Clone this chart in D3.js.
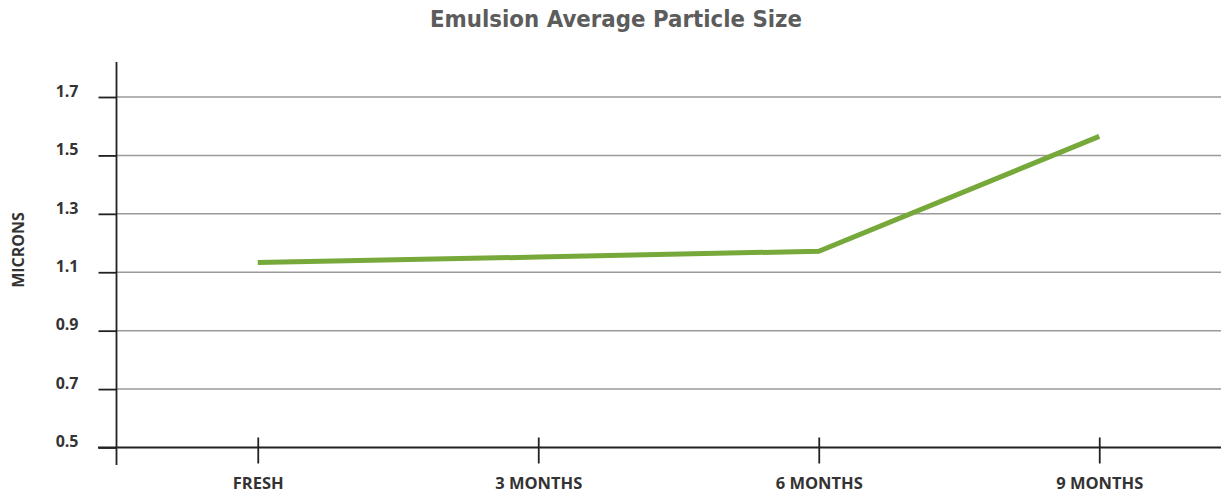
<!DOCTYPE html>
<html><head><meta charset="utf-8">
<script src="https://cdn.jsdelivr.net/npm/d3@7"></script>
<style>body{margin:0;background:#fff}svg{display:block}</style>
</head><body><svg id="c" width="1221" height="497"></svg>
<script>
const categories = ["FRESH", "3 MONTHS", "6 MONTHS", "9 MONTHS"];
const values = [1.133, 1.152, 1.172, 1.565];
const yTicks = [0.5, 0.7, 0.9, 1.1, 1.3, 1.5, 1.7];
const title = "Emulsion Average Particle Size";
const yLabel = "MICRONS";

const svg = d3.select("#c");
const axisX = 116.5, baseY = 447.5;
const x = d3.scalePoint().domain(categories).range([117.5, 1239.5]).padding(0.5);
const y = d3.scaleLinear().domain([0.5, 1.7]).range([baseY, 97]);

// gridlines
svg.append("g").selectAll("line").data(yTicks.filter(d => d > 0.5)).join("line")
  .attr("x1", axisX).attr("x2", 1221).attr("y1", d => y(d)).attr("y2", d => y(d))
  .attr("stroke", "#9a9a9a").attr("stroke-width", 1.5);

// y axis
const ya = svg.append("g").attr("transform", `translate(${axisX},0)`)
  .call(d3.axisLeft(y).tickValues(yTicks).tickSize(18).tickPadding(20).tickFormat(d3.format(".1f")));
ya.select(".domain").remove();
ya.selectAll(".tick line").attr("stroke", "#222").attr("stroke-width", 1.8);
ya.selectAll("text").attr("font-family", "Open Sans").attr("font-weight", "bold")
  .attr("font-size", 16).attr("fill", "#333").attr("dy", "-0.05em");
svg.append("line").attr("x1", axisX).attr("x2", axisX).attr("y1", 62).attr("y2", 465)
  .attr("stroke", "#222").attr("stroke-width", 1.8);

// x axis
const xa = svg.append("g").attr("transform", `translate(0,${baseY})`)
  .call(d3.axisBottom(x).tickSize(0).tickPadding(30));
xa.select(".domain").remove();
xa.selectAll(".tick line").remove();
xa.selectAll(".tick").append("line").attr("y1", -10).attr("y2", 16)
  .attr("stroke", "#222").attr("stroke-width", 1.8);
xa.selectAll("text").attr("font-family", "Open Sans").attr("font-weight", "bold")
  .attr("font-size", 16.5).attr("fill", "#333");
svg.append("line").attr("x1", 98).attr("x2", 1221).attr("y1", baseY).attr("y2", baseY)
  .attr("stroke", "#222").attr("stroke-width", 1.8);

// line
svg.append("path").datum(values)
  .attr("d", d3.line().x((d, i) => x(categories[i])).y(d => y(d)))
  .attr("fill", "none").attr("stroke", "#76a83a").attr("stroke-width", 5);

// title
svg.append("text").attr("x", 616).attr("y", 27).attr("text-anchor", "middle")
  .attr("font-family", "DejaVu Sans").attr("font-weight", "bold").attr("font-size", 23)
  .attr("textLength", 372).attr("lengthAdjust", "spacingAndGlyphs")
  .attr("fill", "#5c5c5c").text(title);

// y label
svg.append("text").attr("transform", "translate(24,250) rotate(-90)").attr("text-anchor", "middle")
  .attr("font-family", "Open Sans").attr("font-weight", "bold").attr("font-size", 16)
  .attr("fill", "#333").text(yLabel);
</script></body></html>
